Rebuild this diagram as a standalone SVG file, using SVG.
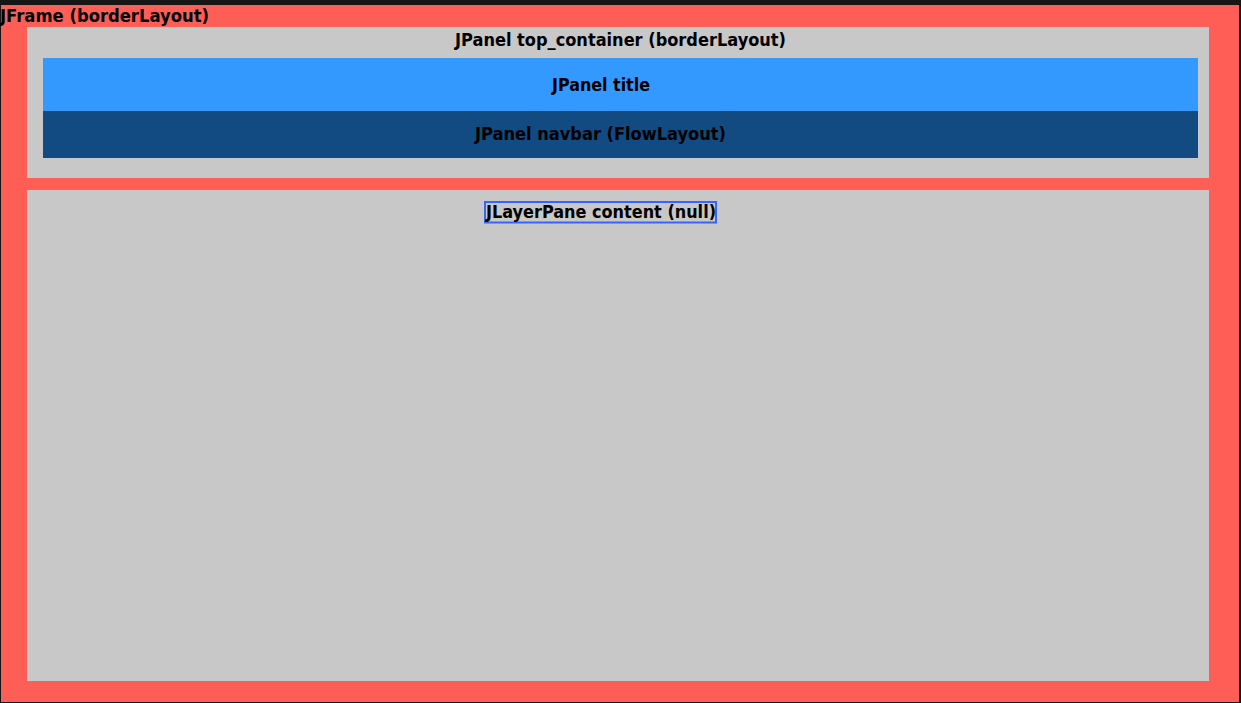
<svg xmlns="http://www.w3.org/2000/svg" width="1241" height="703" viewBox="0 0 1241 703">
<style>
text{font-family:"DejaVu Sans","Liberation Sans",sans-serif;font-weight:bold;font-size:17px;fill:#000}
.c{text-anchor:middle}
</style>
<rect x="0" y="0" width="1241" height="703" fill="#161616"/>
<g id="jframe">
<rect x="1" y="5" width="1238" height="697" fill="#ff5e57"/>
<text x="0" y="22" textLength="209" lengthAdjust="spacingAndGlyphs">JFrame (borderLayout)</text>
</g>
<g id="top_container">
<rect x="27" y="27" width="1182" height="151" fill="#c8c8c8"/>
<text class="c" x="620.5" y="46" textLength="331" lengthAdjust="spacingAndGlyphs">JPanel top_container (borderLayout)</text>
</g>
<g id="title">
<rect x="43" y="58" width="1155" height="53" fill="#3399ff"/>
<text class="c" x="601" y="91" textLength="98" lengthAdjust="spacingAndGlyphs">JPanel title</text>
</g>
<g id="navbar">
<rect x="43" y="111" width="1155" height="47" fill="#124a82"/>
<text class="c" x="600.5" y="140" textLength="251" lengthAdjust="spacingAndGlyphs">JPanel navbar (FlowLayout)</text>
</g>
<g id="content">
<rect x="27" y="190" width="1182" height="491" fill="#c8c8c8"/>
<rect x="485" y="202" width="231" height="20.5" fill="none" stroke="#3366ff" stroke-width="2"/>
<text class="c" x="601" y="218" textLength="230" lengthAdjust="spacingAndGlyphs">JLayerPane content (null)</text>
</g>
<g id="connectors"/>
</svg>
